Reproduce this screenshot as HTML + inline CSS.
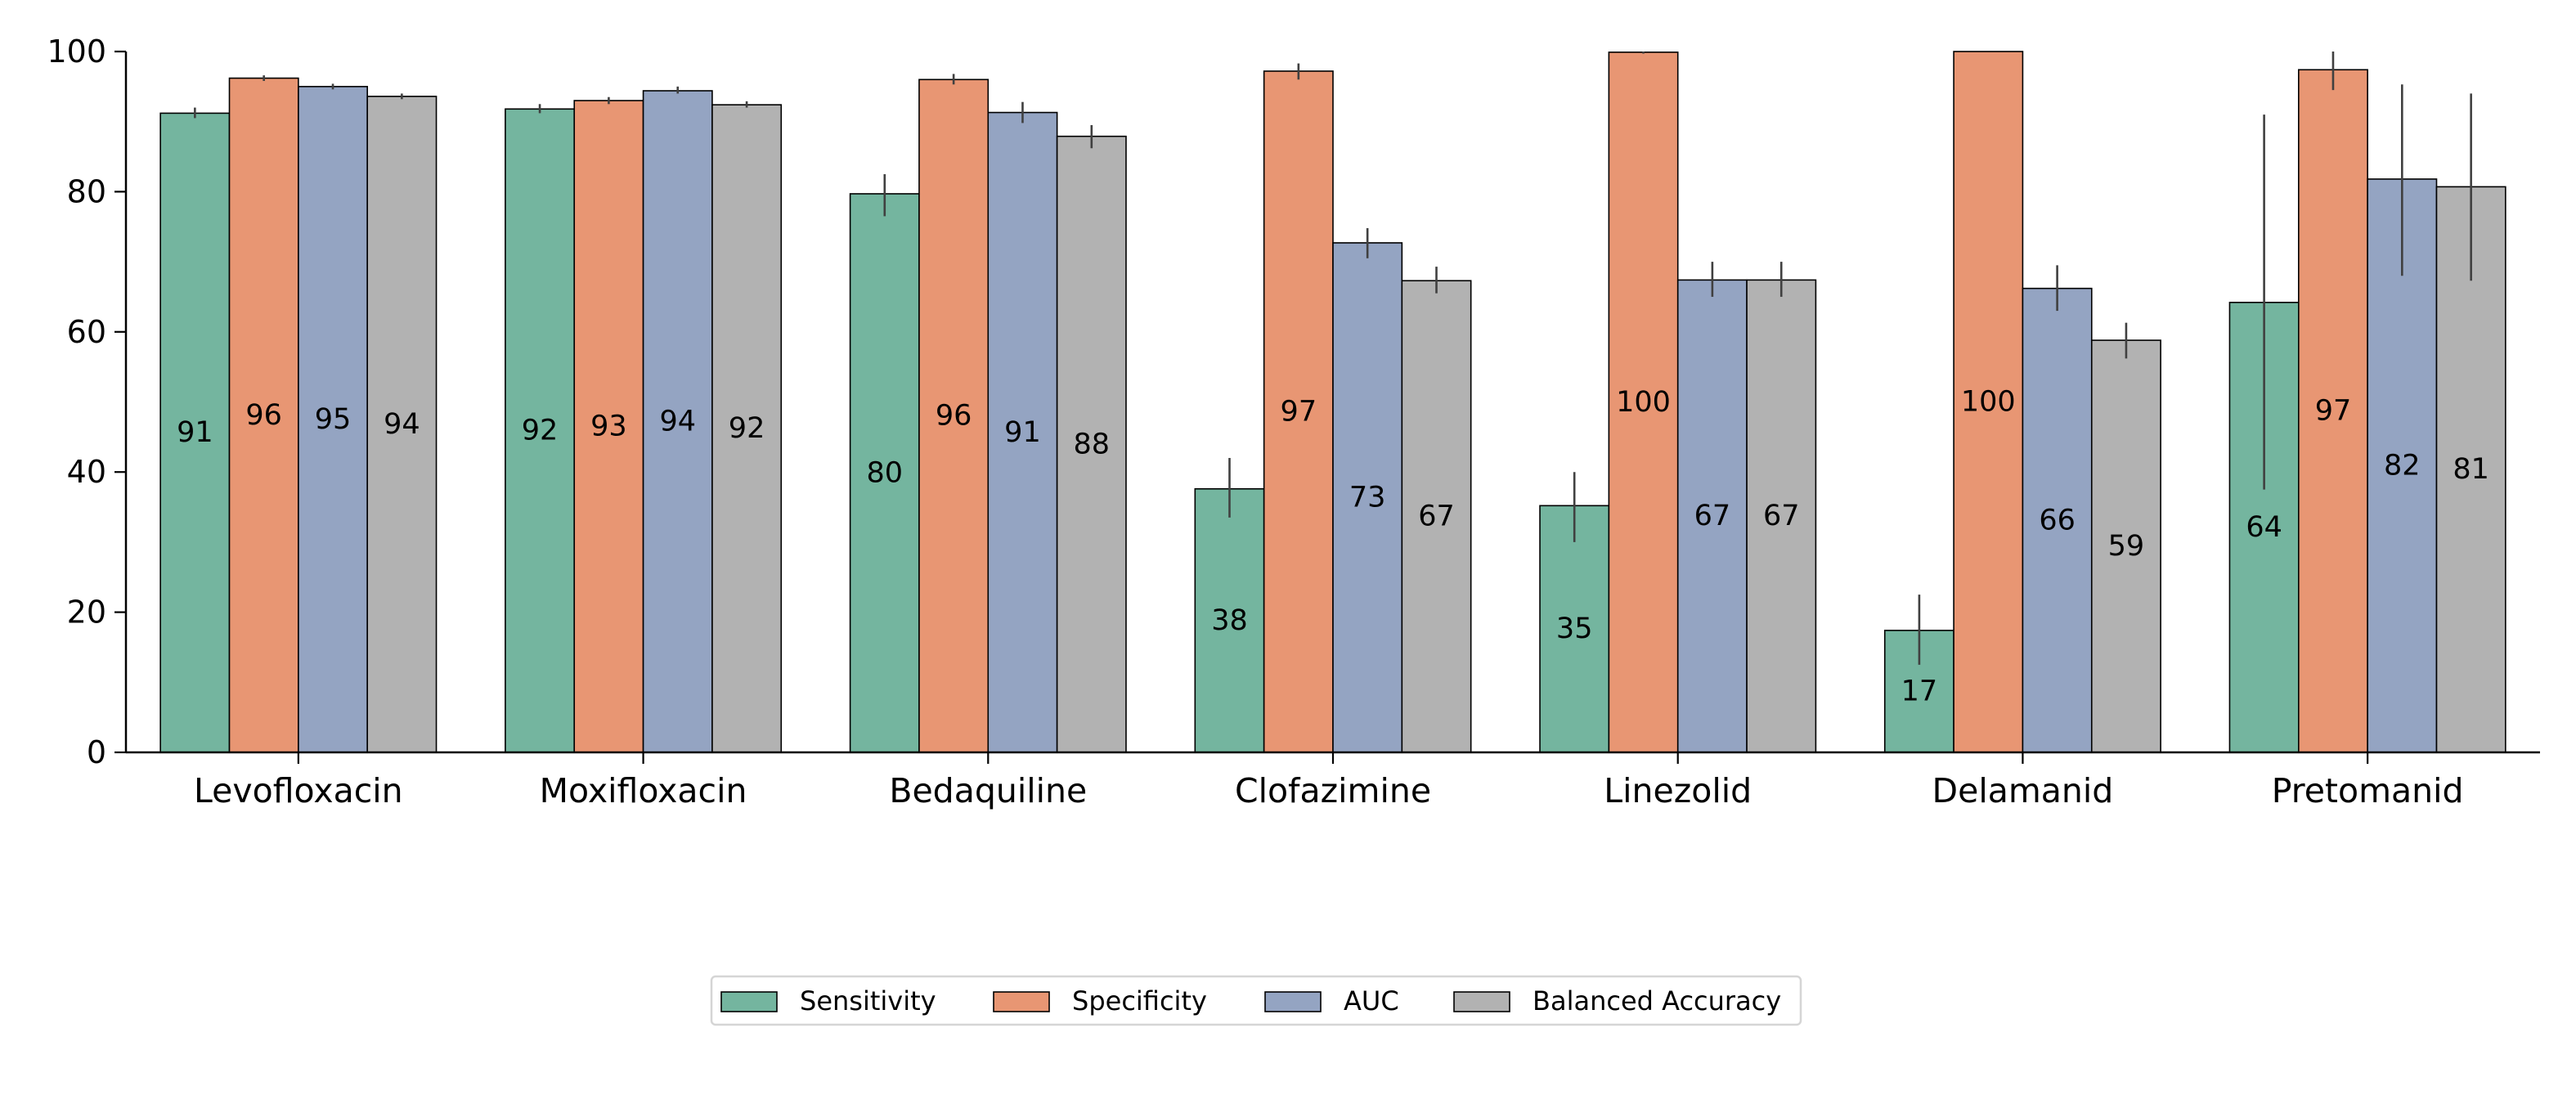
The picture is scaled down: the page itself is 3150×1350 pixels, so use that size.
<!DOCTYPE html>
<html><head><meta charset="utf-8"><style>
html,body{margin:0;padding:0;background:#fff;width:3150px;height:1350px;overflow:hidden}
svg{display:block;font-family:"DejaVu Sans","Liberation Sans",sans-serif}
</style></head><body>
<svg id="chart" width="3150" height="1350" viewBox="0 0 3150 1350" xmlns="http://www.w3.org/2000/svg"></svg>
<script>
const categories=["Levofloxacin","Moxifloxacin","Bedaquiline","Clofazimine","Linezolid","Delamanid","Pretomanid"];
const seriesNames=["Sensitivity","Specificity","AUC","Balanced Accuracy"];
const sensitivity=[91.2,91.8,79.7,37.6,35.2,17.4,64.2];
const sensitivityLo=[90.5,91.2,76.5,33.5,30.0,12.5,37.5];
const sensitivityHi=[92.0,92.5,82.5,42.0,40.0,22.5,91.0];
const specificity=[96.2,93.0,96.0,97.2,99.9,100,97.4];
const specificityLo=[95.8,92.5,95.3,96.0,99.7,100,94.5];
const specificityHi=[96.6,93.5,96.8,98.3,100,100,100];
const auc=[95.0,94.4,91.3,72.7,67.4,66.2,81.8];
const aucLo=[94.6,94.0,89.8,70.5,65.0,63.0,68.0];
const aucHi=[95.4,95.0,92.8,74.8,70.0,69.5,95.3];
const balancedAccuracy=[93.6,92.4,87.9,67.3,67.4,58.8,80.7];
const balancedAccuracyLo=[93.2,92.0,86.2,65.5,65.0,56.2,67.3];
const balancedAccuracyHi=[94.0,92.9,89.5,69.3,70.0,61.3,94.0];
const yTicks=[0,20,40,60,80,100];

const colors=["#74b59f","#e89673","#94a4c2","#b2b2b2"];
const values=[sensitivity,specificity,auc,balancedAccuracy];
const los=[sensitivityLo,specificityLo,aucLo,balancedAccuracyLo];
const his=[sensitivityHi,specificityHi,aucHi,balancedAccuracyHi];
const svg=document.getElementById('chart');
const NS="http://www.w3.org/2000/svg";
const X0=154,X1=3106,Y0=920,Y1=63;
function xPos(i){return X0+(i+0.5)*(X1-X0)/categories.length;}
function yPos(v){return Y0-(v/100)*(Y0-Y1);}
const groupW=(X1-X0)/categories.length*0.8, barW=groupW/4;
function mk(tag,attrs,parent){const e=document.createElementNS(NS,tag);for(const k in attrs)e.setAttribute(k,attrs[k]);(parent||svg).appendChild(e);return e;}

const bars=mk('g',{});


for(let s=0;s<4;s++){
  for(let i=0;i<categories.length;i++){
    const v=values[s][i];
    const x=xPos(i)-groupW/2+s*barW;
    const r=mk('rect',{x:x,y:yPos(v),width:barW,height:yPos(0)-yPos(v),fill:colors[s],stroke:'#000','stroke-width':1.6},bars);
    
    
    const eb=mk('line',{x1:x+barW/2,x2:x+barW/2,y1:yPos(los[s][i]),y2:yPos(his[s][i]),stroke:'#404040','stroke-width':2.6},bars);
    
    
    const t=mk('text',{x:x+barW/2,y:yPos(v/2),'font-size':35,'text-anchor':'middle','dominant-baseline':'central',fill:'#000'},bars);
    t.textContent=Math.round(v);
    
    
  }
}
const ax=mk('g',{});


const yl=mk('line',{x1:X0,x2:X0,y1:Y1,y2:Y0,stroke:'#000','stroke-width':2.5},ax);


const xl=mk('line',{x1:X0,x2:X1,y1:Y0,y2:Y0,stroke:'#000','stroke-width':2.5},ax);


yTicks.forEach(v=>{
  mk('line',{x1:X0-14,x2:X0,y1:yPos(v),y2:yPos(v),stroke:'#000','stroke-width':2.2},ax);
  const t=mk('text',{x:X0-24,y:yPos(v),'font-size':38,'text-anchor':'end','dominant-baseline':'central'},ax);
  t.textContent=v;
  
  
});
categories.forEach((c,i)=>{
  mk('line',{x1:xPos(i),x2:xPos(i),y1:Y0,y2:Y0+14,stroke:'#000','stroke-width':2.2},ax);
  const t=mk('text',{x:xPos(i),y:Y0+61,'font-size':41,'text-anchor':'middle'},ax);
  t.textContent=c;
  
  
});
const lg=mk('g',{});


mk('rect',{x:870,y:1194,width:1332,height:59,rx:5,fill:'#fff',stroke:'#d5d5d5','stroke-width':2.5},lg);
const lx=[882,1215,1547,1778], tx=[978,1311,1643,1874];
seriesNames.forEach((n,s)=>{
  const sw=mk('rect',{x:lx[s],y:1213,width:68,height:24,fill:colors[s],stroke:'#000','stroke-width':1.6},lg);
  
  
  const t=mk('text',{x:tx[s],y:1224,'font-size':32,'dominant-baseline':'central'},lg);
  t.textContent=n;
  
  
});
</script>
</body></html>
